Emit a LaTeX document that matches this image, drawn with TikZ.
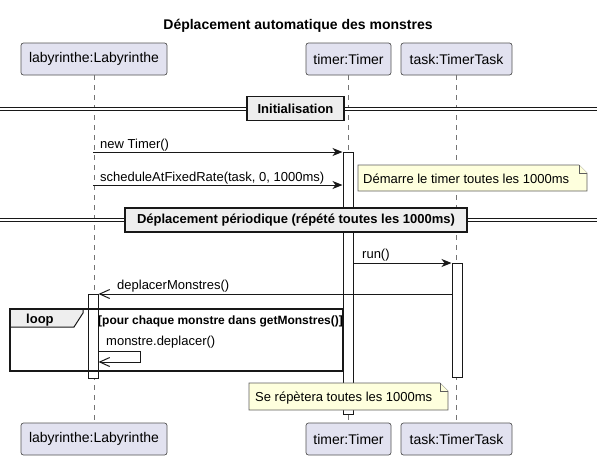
\documentclass[tikz,border=0pt]{standalone}
\usepackage{fontspec}
\setmainfont{Liberation Sans}
\usetikzlibrary{arrows.meta}
\definecolor{partfill}{HTML}{E2E2F0}
\definecolor{notefill}{HTML}{FEFFDD}
\definecolor{divfill}{HTML}{EEEEEE}
\definecolor{umlline}{HTML}{181818}

\begin{document}
\begin{tikzpicture}[x=1pt,y=-1pt,
  participant/.style={draw=umlline!75, fill=partfill, rounded corners=2.5pt, line width=0.7pt,
    minimum height=32pt, inner sep=0pt, font=\fontsize{14}{16}\selectfont},
  lifeline/.style={umlline!60, line width=0.7pt, dash pattern=on 5pt off 5pt},
  activation/.style={draw=umlline, fill=white, line width=1pt, minimum width=10pt, inner sep=0pt, anchor=north},
  msg/.style={umlline, line width=1pt, -{Stealth[length=10pt,width=8pt,inset=3pt]}},
  msgopen/.style={umlline, line width=1pt, -{Straight Barb[length=10pt,width=9pt]}},
  msglabel/.style={anchor=base west, inner sep=0pt, font=\fontsize{13}{15}\selectfont},
  divider/.style={draw=umlline, fill=divfill, line width=1.5pt, minimum height=24pt, inner sep=0pt,
    font=\bfseries\fontsize{13}{15}\selectfont},
  note/.style={draw=umlline!70, fill=notefill, line width=0.6pt}]
\useasboundingbox (0,0) rectangle (597,459);

\node[font=\bfseries\fontsize{14}{16}\selectfont, anchor=base] (title) at (298,29) {Déplacement automatique des monstres};

% participants
\node[participant, minimum width=146pt] (labTop) at (94,59) {labyrinthe:Labyrinthe};
\node[participant, minimum width=85pt] (timerTop) at (348.5,59) {timer:Timer};
\node[participant, minimum width=111pt] (taskTop) at (456.5,59) {task:TimerTask};
\node[participant, minimum width=146pt] (labBot) at (94,439) {labyrinthe:Labyrinthe};
\node[participant, minimum width=85pt] (timerBot) at (348.5,439) {timer:Timer};
\node[participant, minimum width=111pt] (taskBot) at (456.5,439) {task:TimerTask};

\draw[lifeline] (labTop) -- (labBot);
\draw[lifeline] (timerTop) -- (timerBot);
\draw[lifeline] (taskTop) -- (taskBot);

% activations
\node[activation, minimum height=262pt] (timerBar) at (348,152) {};
\node[activation, minimum height=114pt] (taskBar) at (457,263) {};
\node[activation, minimum height=84pt] (labBar) at (93,294) {};

% dividers
\draw[umlline, line width=1pt, double distance=2pt] (0,109) -- (597,109);
\node[divider, minimum width=97pt] (divInit) at (295.5,108.5) {Initialisation};
\draw[umlline, line width=1pt, double distance=2pt] (0,220) -- (597,220);
\node[divider, minimum width=342pt] (divLoop) at (296,220) {Déplacement périodique (répété toutes les 1000ms)};

% messages
\coordinate (labNew) at (93,152);
\draw[msg] (labNew) -- (timerBar.north west);
\node[msglabel] (newLbl) at (100,148) {new Timer()};
\coordinate (labSched) at (93,185);
\draw[msg] (labSched) -- (timerBar.west |- labSched);
\node[msglabel] (schedLbl) at (100,181) {scheduleAtFixedRate(task, 0, 1000ms)};
\draw[msg] (timerBar.east |- taskBar.north) -- (taskBar.north west);
\node[msglabel] (runLbl) at (362,258) {run()};
\draw[msgopen] (taskBar.west |- labBar.north) -- (labBar.north east);
\node[msglabel] (deplLbl) at (117,289) {deplacerMonstres()};

% loop
\draw[umlline, fill=divfill, line width=1pt] (10,309) -- (83,309) -- (83,313) -- (74,327) -- (10,327) -- cycle;
\draw[umlline, line width=1.5pt] (10,309) rectangle (343,371);
\node[anchor=base west, inner sep=0pt, font=\bfseries\fontsize{13}{15}\selectfont] (loopLbl) at (26,323) {loop};
\node[anchor=base west, inner sep=0pt, font=\bfseries\fontsize{12}{14}\selectfont] (guardLbl) at (98,324) {[pour chaque monstre dans getMonstres()]};
\coordinate (selfA) at (140,351);
\coordinate (selfB) at (140,362);
\draw[msgopen] (labBar.east |- selfA) -- (selfA) -- (selfB) -- (labBar.east |- selfB);
\node[msglabel] (selfLbl) at (106,345) {monstre.deplacer()};

% notes
\draw[note] (358,165) -- (579,165) -- (587,173) -- (587,191) -- (358,191) -- cycle;
\draw[note] (579,165) -- (579,173) -- (587,173);
\node[msglabel] (noteStart) at (363,183) {Démarre le timer toutes les 1000ms};
\draw[note] (249,383) -- (440,383) -- (448,391) -- (448,410) -- (249,410) -- cycle;
\draw[note] (440,383) -- (440,391) -- (448,391);
\node[msglabel] (noteRepeat) at (255,401) {Se répètera toutes les 1000ms};
\end{tikzpicture}
\end{document}
